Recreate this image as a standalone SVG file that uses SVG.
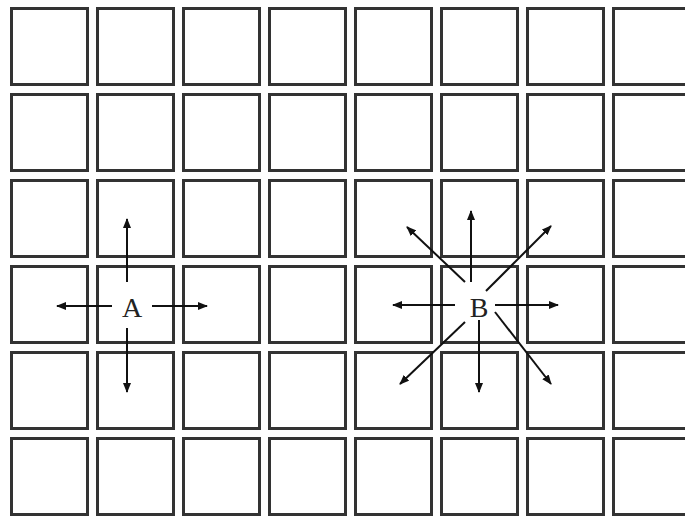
<svg xmlns="http://www.w3.org/2000/svg" width="685" height="518" viewBox="0 0 685 518">
<style>
.cell{fill:#fff;stroke:#333;stroke-width:3}
.arr{stroke:#111;stroke-width:2;fill:none;marker-end:url(#ah)}
.lbl{font-family:"Liberation Serif",serif;font-size:28px;fill:#222;text-anchor:middle}
</style>
<defs>
<marker id="ah" viewBox="0 0 10 8" refX="9" refY="4" markerWidth="5" markerHeight="4" orient="auto" markerUnits="strokeWidth">
<path d="M0,0 L10,4 L0,8 Z" fill="#111"/>
</marker>
</defs>
<rect width="685" height="518" fill="#fff"/>
<g id="grid">
<g id="row1">
<rect class="cell" x="11.5" y="8.5" width="76" height="76"/><rect class="cell" x="97.5" y="8.5" width="76" height="76"/><rect class="cell" x="183.5" y="8.5" width="76" height="76"/><rect class="cell" x="269.5" y="8.5" width="76" height="76"/><rect class="cell" x="355.5" y="8.5" width="76" height="76"/><rect class="cell" x="441.5" y="8.5" width="76" height="76"/><rect class="cell" x="527.5" y="8.5" width="76" height="76"/><rect class="cell" x="613.5" y="8.5" width="76" height="76"/>
</g>
<g id="row2">
<rect class="cell" x="11.5" y="94.5" width="76" height="76"/><rect class="cell" x="97.5" y="94.5" width="76" height="76"/><rect class="cell" x="183.5" y="94.5" width="76" height="76"/><rect class="cell" x="269.5" y="94.5" width="76" height="76"/><rect class="cell" x="355.5" y="94.5" width="76" height="76"/><rect class="cell" x="441.5" y="94.5" width="76" height="76"/><rect class="cell" x="527.5" y="94.5" width="76" height="76"/><rect class="cell" x="613.5" y="94.5" width="76" height="76"/>
</g>
<g id="row3">
<rect class="cell" x="11.5" y="180.5" width="76" height="76"/><rect class="cell" x="97.5" y="180.5" width="76" height="76"/><rect class="cell" x="183.5" y="180.5" width="76" height="76"/><rect class="cell" x="269.5" y="180.5" width="76" height="76"/><rect class="cell" x="355.5" y="180.5" width="76" height="76"/><rect class="cell" x="441.5" y="180.5" width="76" height="76"/><rect class="cell" x="527.5" y="180.5" width="76" height="76"/><rect class="cell" x="613.5" y="180.5" width="76" height="76"/>
</g>
<g id="row4">
<rect class="cell" x="11.5" y="266.5" width="76" height="76"/><rect class="cell" x="97.5" y="266.5" width="76" height="76"/><rect class="cell" x="183.5" y="266.5" width="76" height="76"/><rect class="cell" x="269.5" y="266.5" width="76" height="76"/><rect class="cell" x="355.5" y="266.5" width="76" height="76"/><rect class="cell" x="441.5" y="266.5" width="76" height="76"/><rect class="cell" x="527.5" y="266.5" width="76" height="76"/><rect class="cell" x="613.5" y="266.5" width="76" height="76"/>
</g>
<g id="row5">
<rect class="cell" x="11.5" y="352.5" width="76" height="76"/><rect class="cell" x="97.5" y="352.5" width="76" height="76"/><rect class="cell" x="183.5" y="352.5" width="76" height="76"/><rect class="cell" x="269.5" y="352.5" width="76" height="76"/><rect class="cell" x="355.5" y="352.5" width="76" height="76"/><rect class="cell" x="441.5" y="352.5" width="76" height="76"/><rect class="cell" x="527.5" y="352.5" width="76" height="76"/><rect class="cell" x="613.5" y="352.5" width="76" height="76"/>
</g>
<g id="row6">
<rect class="cell" x="11.5" y="438.5" width="76" height="76"/><rect class="cell" x="97.5" y="438.5" width="76" height="76"/><rect class="cell" x="183.5" y="438.5" width="76" height="76"/><rect class="cell" x="269.5" y="438.5" width="76" height="76"/><rect class="cell" x="355.5" y="438.5" width="76" height="76"/><rect class="cell" x="441.5" y="438.5" width="76" height="76"/><rect class="cell" x="527.5" y="438.5" width="76" height="76"/><rect class="cell" x="613.5" y="438.5" width="76" height="76"/>
</g>
</g>
<g id="connectors">
<line class="arr" x1="127" y1="282" x2="127" y2="219"/>
<line class="arr" x1="127" y1="328" x2="127" y2="392"/>
<line class="arr" x1="112" y1="306" x2="57" y2="306"/>
<line class="arr" x1="152" y1="306" x2="207" y2="306"/>
<line class="arr" x1="471" y1="282" x2="471" y2="211"/>
<line class="arr" x1="479" y1="320" x2="479" y2="392"/>
<line class="arr" x1="455" y1="305" x2="393" y2="305"/>
<line class="arr" x1="495" y1="305" x2="558" y2="305"/>
<line class="arr" x1="465" y1="282" x2="407" y2="227"/>
<line class="arr" x1="486" y1="291" x2="551" y2="226"/>
<line class="arr" x1="465" y1="322" x2="400" y2="384"/>
<line class="arr" x1="495" y1="312" x2="551" y2="384"/>
</g>
<g id="nodeA"><text class="lbl" x="132" y="317">A</text></g>
<g id="nodeB"><text class="lbl" x="479" y="317">B</text></g>
</svg>
